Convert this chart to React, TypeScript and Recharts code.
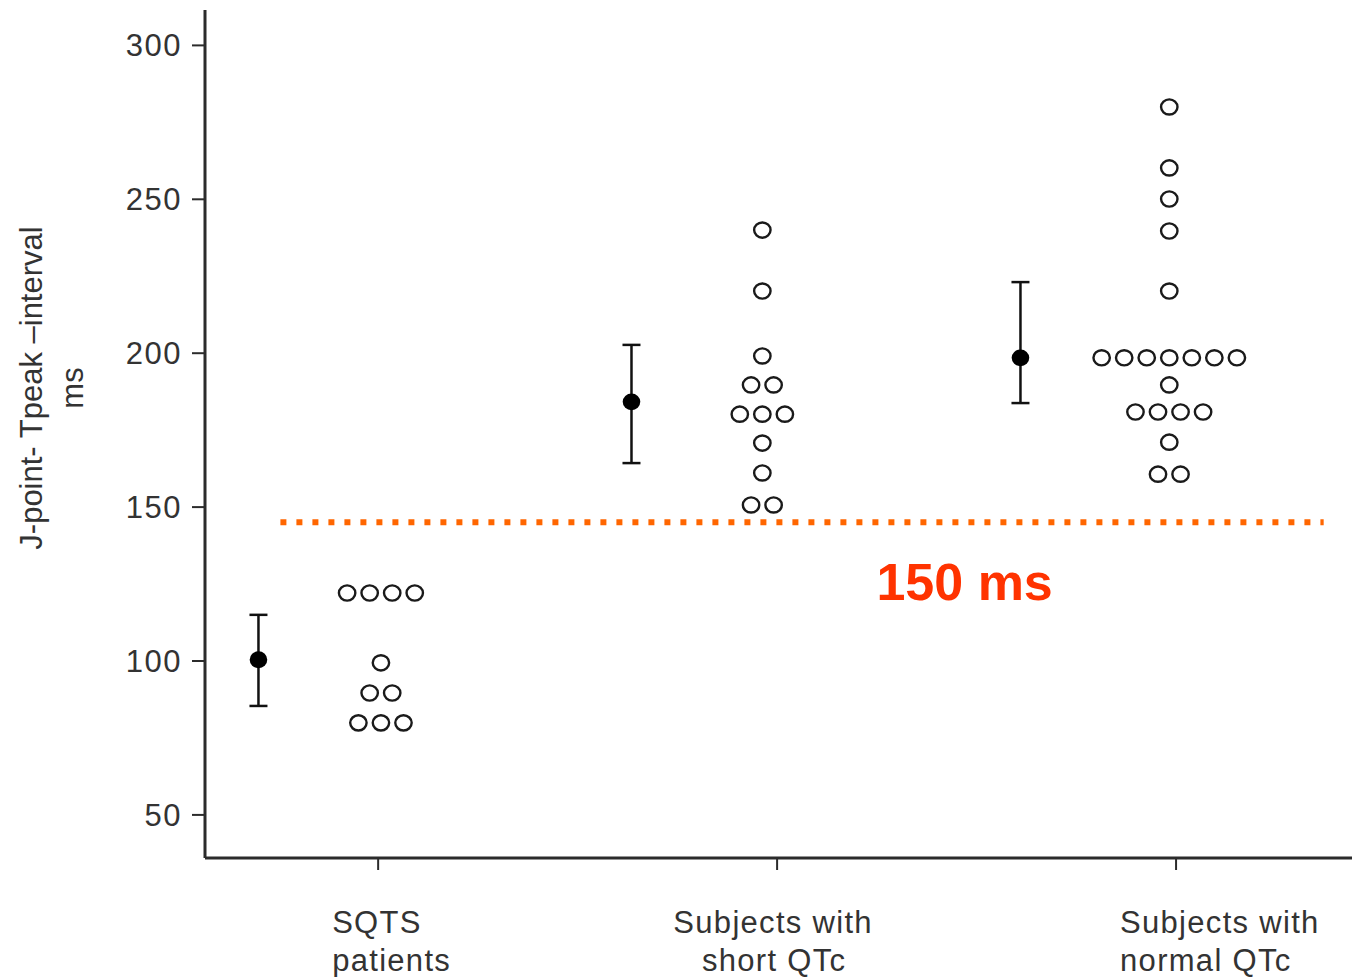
import React from 'react';
import {
  ComposedChart,
  Scatter,
  XAxis,
  YAxis,
  ErrorBar,
  ReferenceLine,
  ReferenceDot,
} from 'recharts';

// ---- data ----
const categoryLines: string[][] = [
  ['SQTS', 'patients'],
  ['Subjects with', 'short QTc'],
  ['Subjects with', 'normal QTc'],
];
const categoryTicks = [1, 2, 3];
const yTicks = [50, 100, 150, 200, 250, 300];

// mean ± error (x position of the mean marker in category units)
const meanX = [0.7, 1.635, 2.61];
const meanValues = [100.4, 184.2, 198.5];
const errorLow = [15, 19.9, 14.7];
const errorHigh = [14.6, 18.5, 24.6];

// individual subjects: [value, count] rows
const dotCenters = [1.007, 1.963, 2.983];
const sqtsRows: [number, number][] = [
  [122.1, 4],
  [99.4, 1],
  [89.6, 2],
  [79.9, 3],
];
const shortRows: [number, number][] = [
  [240, 1],
  [220.2, 1],
  [199.1, 1],
  [189.7, 2],
  [180.2, 3],
  [170.8, 1],
  [161.1, 1],
  [150.7, 2],
];
const normalRows: [number, number][] = [
  [280, 1],
  [260.2, 1],
  [250.1, 1],
  [239.7, 1],
  [220.2, 1],
  [198.5, 7],
  [189.7, 1],
  [180.9, 4],
  [171.1, 1],
  [160.7, 2],
];
const thresholdValue = 145.1;
const thresholdLabel = '150 ms';

// ---- derived tables ----
const DOT_STEP = 0.0565;
const groupsRows = [sqtsRows, shortRows, normalRows];
const dotData = groupsRows.flatMap((rows, g) =>
  rows.flatMap(([v, n]) =>
    Array.from({ length: n }, (_, i) => ({
      x: dotCenters[g] + (i - (n - 1) / 2) * DOT_STEP,
      y: v,
    }))
  )
);
const meanData = meanValues.map((v, i) => ({
  x: meanX[i],
  y: v,
  err: [errorLow[i], errorHigh[i]],
}));

const FONT = '"Liberation Sans", Arial, sans-serif';
const AXIS = '#2b2b2b';

const OpenDot = (p: any) => (
  <ellipse cx={p.cx} cy={p.cy} rx={8.2} ry={7.6} fill="#fff" stroke="#1a1a1a" strokeWidth={2.4} />
);
const MeanDot = (p: any) => <ellipse cx={p.cx} cy={p.cy} rx={8.8} ry={8.4} fill="#000" />;

const lineAnchors = [
  ['start', 'start'],
  ['middle', 'middle'],
  ['start', 'start'],
];
const lineOffsets = [
  [-46, -46],
  [-4, -3],
  [-56, -56],
];

const XTick = (props: any) => {
  const { x, payload } = props;
  const idx = categoryTicks.indexOf(payload.value);
  if (idx < 0) return null;
  const lines = categoryLines[idx];
  return (
    <g>
      {lines.map((t, i) => (
        <text
          key={i}
          x={x + lineOffsets[idx][i]}
          y={933 + i * 38}
          textAnchor={lineAnchors[idx][i] as any}
          fontSize={31}
          letterSpacing={1.3}
          fill="#333"
          fontFamily={FONT}
        >
          {t}
        </text>
      ))}
    </g>
  );
};

const YTick = (props: any) => {
  const { x, y, payload } = props;
  return (
    <text
      x={x}
      y={y}
      dy={11}
      textAnchor="end"
      fontSize={31}
      letterSpacing={1.5}
      fill="#333"
      fontFamily={FONT}
    >
      {payload.value}
    </text>
  );
};

const YLabel = () => (
  <g fontFamily={FONT} fill="#333" fontSize={31}>
    <text x={42} y={388} textAnchor="middle" transform="rotate(-90 42 388)">
      J-point- Tpeak –interval
    </text>
    <text x={83} y={388} textAnchor="middle" transform="rotate(-90 83 388)">
      ms
    </text>
  </g>
);

export default function App() {
  return (
    <div style={{ position: 'absolute', left: 0, top: 0, background: '#fff' }}>
      <ComposedChart
        width={1352}
        height={977}
        margin={{ top: 10, right: 0, bottom: 0, left: 0 }}
        style={{ fontFamily: FONT }}
      >
        <XAxis
          type="number"
          dataKey="x"
          domain={[0.566, 3.441]}
          ticks={categoryTicks}
          allowDataOverflow
          height={119}
          axisLine={{ stroke: AXIS, strokeWidth: 3 }}
          tickLine={{ stroke: AXIS, strokeWidth: 2 }}
          tickSize={12}
          tick={<XTick />}
        />
        <YAxis
          type="number"
          dataKey="y"
          domain={[36.0, 311.5]}
          ticks={yTicks}
          allowDataOverflow
          width={205}
          axisLine={{ stroke: AXIS, strokeWidth: 3 }}
          tickLine={{ stroke: AXIS, strokeWidth: 2 }}
          tickSize={13}
          tickMargin={10}
          tick={<YTick />}
          label={<YLabel />}
        />
        <ReferenceLine
          segment={[
            { x: 0.755, y: thresholdValue },
            { x: 3.37, y: thresholdValue },
          ]}
          stroke="#ff6600"
          strokeWidth={6}
          strokeDasharray="6 10"
        />
        <ReferenceDot
          x={2.47}
          y={125.7}
          r={0}
          fill="none"
          stroke="none"
          label={{
            value: thresholdLabel,
            position: 'center',
            fill: '#ff3300',
            fontSize: 52,
            fontWeight: 'bold',
            fontFamily: FONT,
          }}
        />
        <Scatter data={dotData} shape={OpenDot} isAnimationActive={false} />
        <Scatter data={meanData} shape={MeanDot} isAnimationActive={false}>
          <ErrorBar dataKey="err" direction="y" width={9} stroke="#111" strokeWidth={2.5} />
        </Scatter>
      </ComposedChart>
    </div>
  );
}
